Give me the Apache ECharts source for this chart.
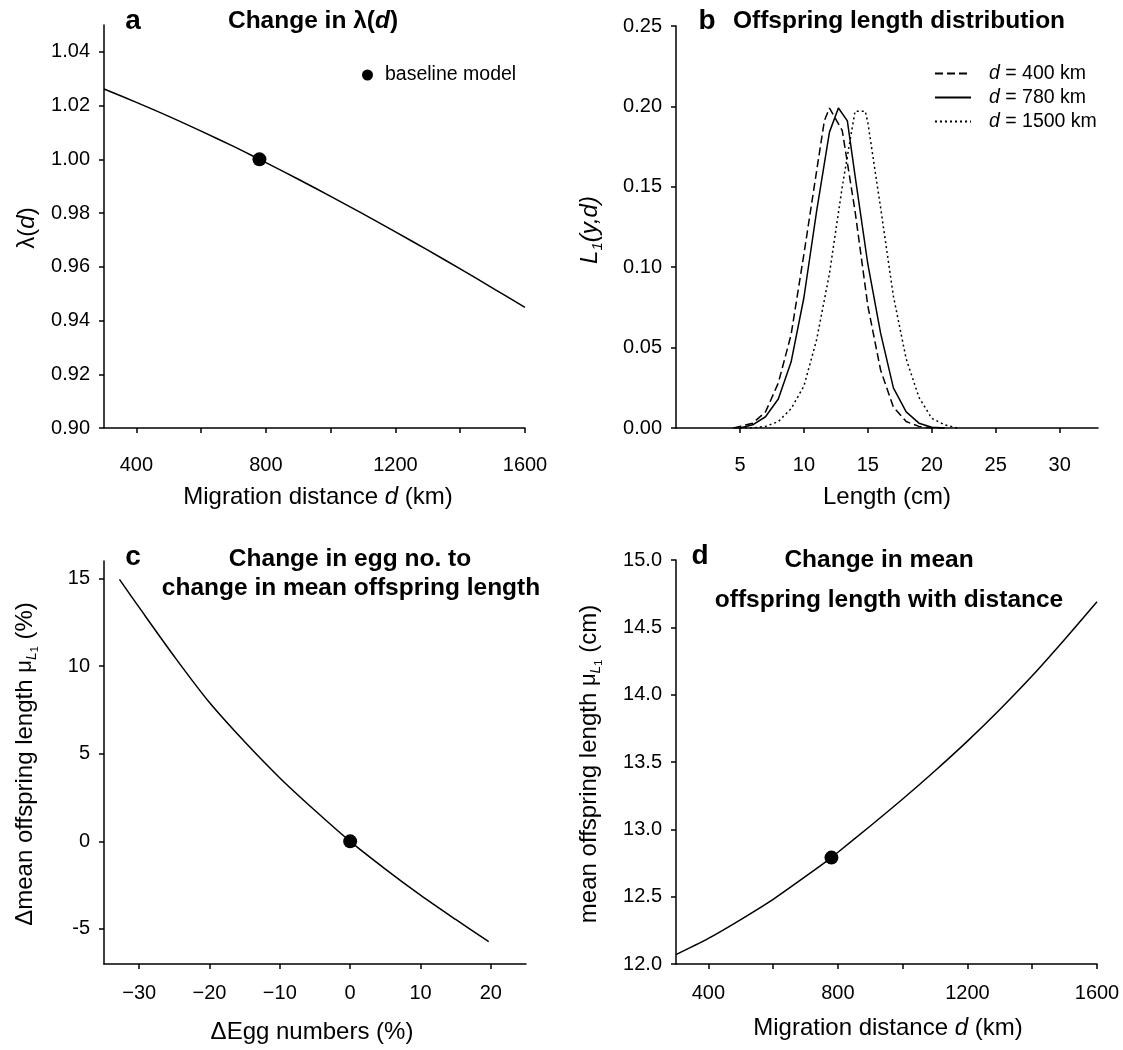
<!DOCTYPE html>
<html><head><meta charset="utf-8">
<script src="https://cdn.jsdelivr.net/npm/echarts@6/dist/echarts.min.js"></script>
<style>html,body{margin:0;padding:0;background:#fff}#c{width:1123px;height:1050px}</style>
</head><body><div id="c"></div>
<script>
// ---- Panel a: lambda(d) vs migration distance
const aDist   = [300, 400, 500, 600, 700, 780, 800, 900, 1000, 1100, 1200, 1300, 1400, 1500, 1600];
const aLambda = [1.0262, 1.0212, 1.0160, 1.0105, 1.0048, 1.0000, 0.9988, 0.9926, 0.9862, 0.9797, 0.9730, 0.9662, 0.9592, 0.9521, 0.9449];
const aBaseline = [780, 1.0];
const aYTicks = [0.90, 0.92, 0.94, 0.96, 0.98, 1.00, 1.02, 1.04];
const aXTicks = [400, 600, 800, 1000, 1200, 1400, 1600];
const aXLabels = [400, 800, 1200, 1600];

// ---- Panel b: offspring length distribution
const bLen400 = [4.5, 5, 6, 7, 8, 9, 10, 11, 11.6, 12, 13, 14, 15, 16, 17, 18, 19, 20, 21];
const bVal400 = [0, 0.001, 0.003, 0.010, 0.028, 0.058, 0.108, 0.160, 0.191, 0.199, 0.185, 0.135, 0.076, 0.036, 0.013, 0.004, 0.001, 0, 0];
const bLen780 = [4.5, 5, 6, 7, 8, 9, 10, 11, 12, 12.7, 13.4, 14, 15, 16, 17, 18, 19, 20, 21];
const bVal780 = [0, 0, 0.002, 0.007, 0.018, 0.041, 0.081, 0.135, 0.184, 0.199, 0.191, 0.157, 0.102, 0.059, 0.025, 0.010, 0.003, 0.0005, 0];
const bLen1500 = [5, 6, 7, 8, 9, 10, 11, 12, 13, 14, 14.8, 15, 16, 17, 18, 19, 20, 21, 22];
const bVal1500 = [0, 0, 0.001, 0.004, 0.012, 0.026, 0.055, 0.096, 0.150, 0.197, 0.197, 0.190, 0.137, 0.082, 0.043, 0.019, 0.006, 0.002, 0];
const bNames = ['400', '780', '1500'];
const bXTicks = [5, 10, 15, 20, 25, 30];
const bYTicks = [0, 0.05, 0.10, 0.15, 0.20, 0.25];

// ---- Panel c: change in egg number vs change in mean offspring length
const cEgg = [-32.8, -30, -25, -20, -15, -10, -5, 0, 5, 10, 15, 19.7];
const cLen = [14.95, 13.35, 10.55, 7.92, 5.68, 3.62, 1.76, 0, -1.58, -3.07, -4.46, -5.73];
const cBaseline = [0, 0];
const cXTicks = [-30, -20, -10, 0, 10, 20];
const cYTicks = [-5, 0, 5, 10, 15];

// ---- Panel d: mean offspring length vs distance
const dDist = [300, 400, 500, 600, 700, 780, 800, 900, 1000, 1100, 1200, 1300, 1400, 1500, 1600];
const dMean = [12.07, 12.19, 12.33, 12.48, 12.65, 12.79, 12.83, 13.025, 13.225, 13.435, 13.655, 13.89, 14.14, 14.41, 14.69];
const dBaseline = [780, 12.79];
const dYTicks = [12.0, 12.5, 13.0, 13.5, 14.0, 14.5, 15.0];

const FONT = '"Liberation Sans", Arial, sans-serif';
const zip = (xs, ys) => xs.map((x, i) => [x, ys[i]]);

function xAxis(gi, min, max, ticks, labels, fmt, margin) {
  return {
    type: 'value', gridIndex: gi, min: min, max: max,
    axisLine: {show: true, onZero: false, lineStyle: {color: '#000', width: 1.5}},
    axisTick: {show: true, inside: false, length: 5, lineStyle: {color: '#000', width: 1.5}, customValues: ticks},
    axisLabel: {show: true, margin: margin, color: '#000', fontSize: 20, fontFamily: FONT, customValues: labels, formatter: fmt},
    splitLine: {show: false}
  };
}
function yAxis(gi, min, max, ticks, fmt) {
  return {
    type: 'value', gridIndex: gi, min: min, max: max,
    axisLine: {show: true, onZero: false, lineStyle: {color: '#000', width: 1.5}},
    axisTick: {show: true, inside: false, length: 5, lineStyle: {color: '#000', width: 1.5}, customValues: ticks},
    axisLabel: {show: true, margin: 14, color: '#000', fontSize: 20, fontFamily: FONT, customValues: ticks, formatter: fmt},
    splitLine: {show: false}
  };
}
const lineBase = {type: 'line', symbol: 'none', showSymbol: false, smooth: false, silent: true, animation: false};
const smoothLine = Object.assign({}, lineBase, {smooth: 0.3});
const dot = {type: 'scatter', symbol: 'circle', symbolSize: 14, itemStyle: {color: '#000', opacity: 1}, animation: false, silent: true};

const richCommon = {
  n: {fontSize: 24, fontFamily: FONT, color: '#000'},
  i: {fontSize: 24, fontFamily: FONT, fontStyle: 'italic', color: '#000'},
  mu: {fontSize: 22, fontFamily: FONT, color: '#000'},
  L: {fontSize: 14, fontFamily: FONT, fontStyle: 'italic', color: '#000', verticalAlign: 'top', padding: [15, 0, 0, 0]},
  s1: {fontSize: 11, fontFamily: FONT, color: '#000', verticalAlign: 'top', padding: [19, 0, 0, 0]},
  b: {fontSize: 24.5, fontFamily: FONT, fontWeight: 'bold', color: '#000'},
  bi: {fontSize: 24.5, fontFamily: FONT, fontWeight: 'bold', fontStyle: 'italic', color: '#000'},
  big: {fontSize: 28, fontFamily: FONT, fontWeight: 'bold', color: '#000'},
  ii: {fontSize: 24, fontFamily: FONT, fontStyle: 'italic', color: '#000'},
  sb: {fontSize: 15, fontFamily: FONT, fontStyle: 'italic', color: '#000', verticalAlign: 'top', padding: [15, 0, 0, 0]}
};
function txt(x, y, text, align, rot) {
  return {type: 'text', x: x, y: y, rotation: rot || 0, silent: true,
    style: {text: text, align: align || 'center', verticalAlign: 'middle', rich: richCommon, fill: '#000', font: '24px ' + FONT}};
}

const option = {
  backgroundColor: '#fff',
  animation: false,
  grid: [
    {left: 104, top: 25, width: 421, height: 403},
    {left: 676, top: 26, width: 422, height: 402},
    {left: 104, top: 561, width: 422, height: 403},
    {left: 676, top: 560, width: 421, height: 404}
  ],
  xAxis: [
    xAxis(0, 300, 1600, aXTicks, aXLabels, v => String(v), 27),
    xAxis(1, 0, 33, bXTicks, bXTicks, v => String(v), 27),
    xAxis(2, -35, 25, cXTicks, cXTicks, v => v < 0 ? '\u2212' + Math.abs(v) : String(v), 19),
    xAxis(3, 300, 1600, aXTicks, aXLabels, v => String(v), 19)
  ],
  yAxis: [
    yAxis(0, 0.90, 1.05, aYTicks, v => v.toFixed(2)),
    yAxis(1, 0, 0.25, bYTicks, v => v.toFixed(2)),
    yAxis(2, -7, 16, cYTicks, v => String(v)),
    yAxis(3, 12, 15, dYTicks, v => v.toFixed(1))
  ],
  legend: [
    {data: ['baseline model'], left: 357, top: 60, orient: 'vertical', icon: 'circle', itemWidth: 11, itemHeight: 11,
     itemStyle: {color: '#000', opacity: 1},
     textStyle: {fontSize: 19.5, fontFamily: FONT, color: '#000', padding: [0, 0, 0, 7]}, selectedMode: false},
    {data: bNames, left: 929, top: 58, orient: 'vertical', itemWidth: 36, itemHeight: 14, itemGap: 3,
     itemStyle: {color: 'rgba(0,0,0,0)', borderWidth: 0, opacity: 0},
     formatter: n => '{sp|}{i|d} = ' + n + ' km', selectedMode: false,
     textStyle: {fontSize: 19.5, fontFamily: FONT, color: '#000', lineHeight: 21,
       rich: {sp: {width: 13}, i: {fontStyle: 'italic', fontSize: 19.5, fontFamily: FONT}}}}
  ],
  series: [
    Object.assign({}, smoothLine, {xAxisIndex: 0, yAxisIndex: 0, data: zip(aDist, aLambda), lineStyle: {color: '#000', width: 1.5}}),
    Object.assign({}, dot, {name: 'baseline model', xAxisIndex: 0, yAxisIndex: 0, data: [aBaseline]}),
    Object.assign({}, lineBase, {name: bNames[0], xAxisIndex: 1, yAxisIndex: 1, data: zip(bLen400, bVal400), itemStyle: {color: '#000'}, lineStyle: {color: '#000', width: 1.5, type: [8, 4]}}),
    Object.assign({}, lineBase, {name: bNames[1], xAxisIndex: 1, yAxisIndex: 1, data: zip(bLen780, bVal780), itemStyle: {color: '#000'}, lineStyle: {color: '#000', width: 1.5, type: 'solid'}}),
    Object.assign({}, lineBase, {name: bNames[2], xAxisIndex: 1, yAxisIndex: 1, data: zip(bLen1500, bVal1500), itemStyle: {color: '#000'}, lineStyle: {color: '#000', width: 1.5, type: [2, 3]}}),
    Object.assign({}, smoothLine, {xAxisIndex: 2, yAxisIndex: 2, data: zip(cEgg, cLen), lineStyle: {color: '#000', width: 1.5}}),
    Object.assign({}, dot, {xAxisIndex: 2, yAxisIndex: 2, data: [cBaseline]}),
    Object.assign({}, smoothLine, {xAxisIndex: 3, yAxisIndex: 3, data: zip(dDist, dMean), lineStyle: {color: '#000', width: 1.5}}),
    Object.assign({}, dot, {xAxisIndex: 3, yAxisIndex: 3, data: [dBaseline]})
  ],
  graphic: [
    // panel letters and titles
    txt(133, 21, '{big|a}', 'center'),
    txt(313, 21, '{b|Change in \u03bb(}{bi|d}{b|)}', 'center'),
    txt(707, 21, '{big|b}', 'center'),
    txt(733, 21, '{b|Offspring length distribution}', 'left'),
    txt(133, 557, '{big|c}', 'center'),
    txt(350, 559, '{b|Change in egg no. to}', 'center'),
    txt(351, 588, '{b|change in mean offspring length}', 'center'),
    txt(700, 556, '{big|d}', 'center'),
    txt(879, 560, '{b|Change in mean}', 'center'),
    txt(889, 600, '{b|offspring length with distance}', 'center'),
    // axis titles
    txt(318, 497, '{n|Migration distance }{i|d}{n| (km)}', 'center'),
    txt(887, 497, '{n|Length (cm)}', 'center'),
    txt(312, 1032, '{n|\u0394Egg numbers (%)}', 'center'),
    txt(888, 1028, '{n|Migration distance }{i|d}{n| (km)}', 'center'),
    txt(27, 228, '{n|\u03bb(}{i|d}{n|)}', 'center', Math.PI / 2),
    txt(590, 230, '{ii|L}{sb|1}{ii|(y,d)}', 'center', Math.PI / 2),
    txt(25, 764, '{n|\u0394mean offspring length }{mu|\u03bc}{L|L}{s1|1}{n| (%)}', 'center', Math.PI / 2),
    txt(589, 764, '{n|mean offspring length }{mu|\u03bc}{L|L}{s1|1}{n| (cm)}', 'center', Math.PI / 2)
  ]
};
const chart = echarts.init(document.getElementById('c'));
chart.setOption(option);
</script></body></html>
